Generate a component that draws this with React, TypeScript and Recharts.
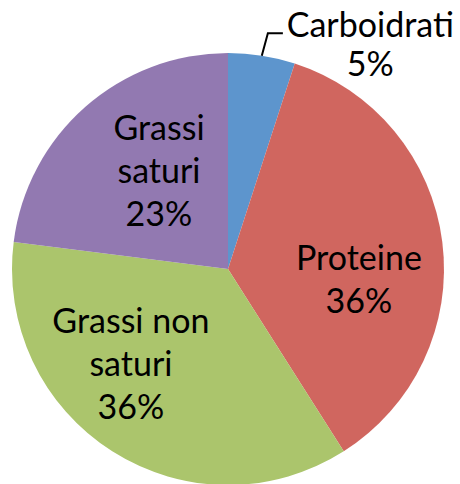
import React from 'react';
import { PieChart, Pie, Cell } from 'recharts';

// dati
const categories = ['Carboidrati', 'Proteine', 'Grassi non saturi', 'Grassi saturi'];
const percentages = [5, 36, 36, 23];
const labelLines = [['Carboidrati'], ['Proteine'], ['Grassi non', 'saturi'], ['Grassi', 'saturi']];

const colors = ['#5D95CD', '#D0665F', '#ABC56C', '#9279B1'];

// posizione delle etichette: spostamento dell'angolo e raggio relativo
const labelPlace = [
  { shift: -23.4, r: 1.23, lineHeight: 39, leader: true },
  { shift: -11.8, r: 0.608, lineHeight: 43, leader: false },
  { shift: -13.2, r: 0.629, lineHeight: 43, leader: false },
  { shift: -6.1, r: 0.553, lineHeight: 43, leader: false },
];

const data = categories.map((name, i) => ({ name, value: percentages[i] }));

const FONT = 'Lato, sans-serif';
const FONT_SIZE = 34;
const CAP = 23;
const RAD = Math.PI / 180;

const renderLabel = (props: any) => {
  const { cx, cy, midAngle, outerRadius, index } = props;
  const place = labelPlace[index];
  const a = (midAngle + place.shift) * RAD;
  const x = cx + outerRadius * place.r * Math.cos(a);
  const y = cy - outerRadius * place.r * Math.sin(a);
  const lines = [...labelLines[index], `${percentages[index]}%`];
  const n = lines.length;

  let leader = null;
  if (place.leader) {
    const m = midAngle * RAD;
    const x0 = cx + outerRadius * Math.cos(m);
    const y0 = cy - outerRadius * Math.sin(m);
    const a1 = (midAngle - 0.6) * RAD;
    const x1 = cx + outerRadius * 1.107 * Math.cos(a1);
    const y1 = cy - outerRadius * 1.107 * Math.sin(a1);
    leader = (
      <path d={`M${x0},${y0}L${x1},${y1}L${x1 + 15},${y1}`} stroke="#000" strokeWidth={2} fill="none" />
    );
  }

  return (
    <g key={`lbl-${index}`}>
      {leader}
      <text x={x} y={y} textAnchor="middle" fontFamily={FONT} fontSize={FONT_SIZE} fill="#000">
        {lines.map((t, i) => (
          <tspan key={i} x={x} y={y + (i - (n - 1) / 2) * place.lineHeight + CAP / 2}>
            {t}
          </tspan>
        ))}
      </text>
    </g>
  );
};

export default function App() {
  return (
    <div style={{ position: 'absolute', left: 0, top: 0, width: 460, height: 484, background: '#fff' }}>
      <PieChart width={460} height={484} margin={{ top: 0, right: 0, bottom: 0, left: 0 }}>
        <Pie
          data={data}
          dataKey="value"
          nameKey="name"
          cx={228}
          cy={269}
          outerRadius={216}
          startAngle={90}
          endAngle={-270}
          stroke="none"
          label={renderLabel}
          labelLine={false}
          isAnimationActive={false}
        >
          {data.map((d, i) => (
            <Cell key={d.name} fill={colors[i]} />
          ))}
        </Pie>
      </PieChart>
    </div>
  );
}
